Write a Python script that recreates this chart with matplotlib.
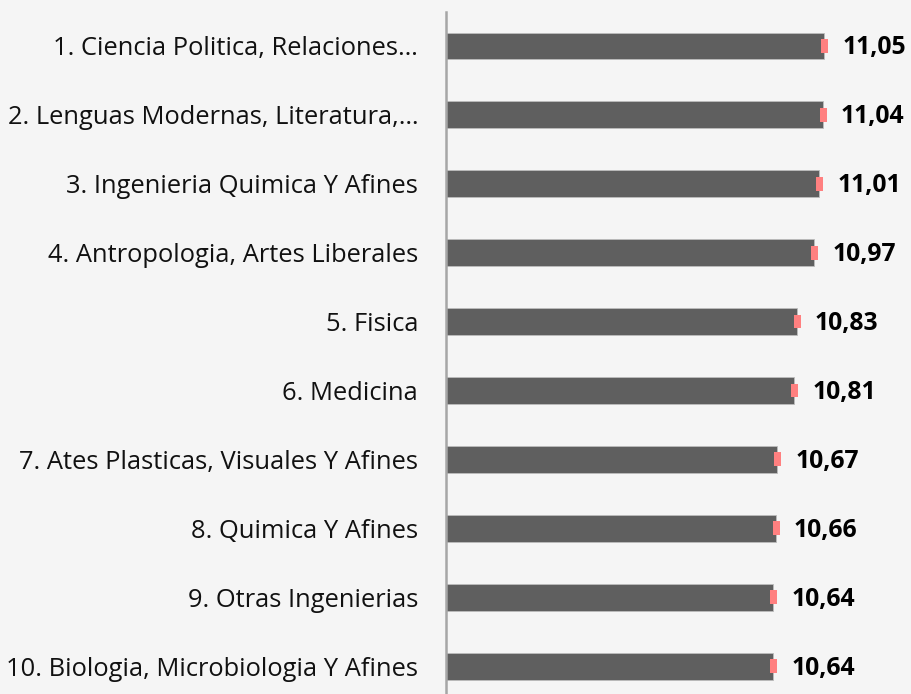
import matplotlib
matplotlib.use("Agg")
import matplotlib.pyplot as plt

categories = [
    "1. Ciencia Politica, Relaciones…",
    "2. Lenguas Modernas, Literatura,…",
    "3. Ingenieria Quimica Y Afines",
    "4. Antropologia, Artes Liberales",
    "5. Fisica",
    "6. Medicina",
    "7. Ates Plasticas, Visuales Y Afines",
    "8. Quimica Y Afines",
    "9. Otras Ingenierias",
    "10. Biologia, Microbiologia Y Afines",
]
values = [11.05, 11.04, 11.01, 10.97, 10.83, 10.81, 10.67, 10.66, 10.64, 10.64]
value_labels = ["11,05", "11,04", "11,01", "10,97", "10,83", "10,81", "10,67", "10,66", "10,64", "10,64"]

plt.rcParams['font.family'] = ['Open Sans', 'DejaVu Sans']
bg = '#f5f5f5'
fig = plt.figure(figsize=(9.12, 6.94), dpi=100, facecolor=bg)
ax = fig.add_axes([446/912, 0, 466/912, (694-12)/694], facecolor=bg)

base = 8.0
ypos = list(range(len(values)))
ax.barh(ypos, [v - base for v in values], left=base, height=0.39,
        color='#5f5f5f', edgecolor='#bdbdbd', linewidth=0.6, zorder=2)
ax.barh(ypos, [0.055]*len(values), left=[v - 0.025 for v in values], height=0.2,
        color='#ff8080', linewidth=0, zorder=3)
for y, v, lab in zip(ypos, values, value_labels):
    ax.annotate(lab, (v, y), xytext=(18, -2), textcoords='offset pixels',
                ha='left', va='center', fontsize=17.8, fontweight='bold', color='#000000')

ax.set_xlim(base, base + 466/124)
ax.set_ylim(9.405, -0.493)
ax.set_yticks(ypos)
ax.set_yticklabels(categories, fontsize=18.4, color='#111111')
ax.tick_params(axis='y', length=0, pad=20)
ax.set_xticks([])
for s in ['top', 'right', 'bottom']:
    ax.spines[s].set_visible(False)
ax.spines['left'].set_color('#a6a6a6')
ax.spines['left'].set_linewidth(1.8)
fig.savefig('out.png', dpi=100, facecolor=bg)
